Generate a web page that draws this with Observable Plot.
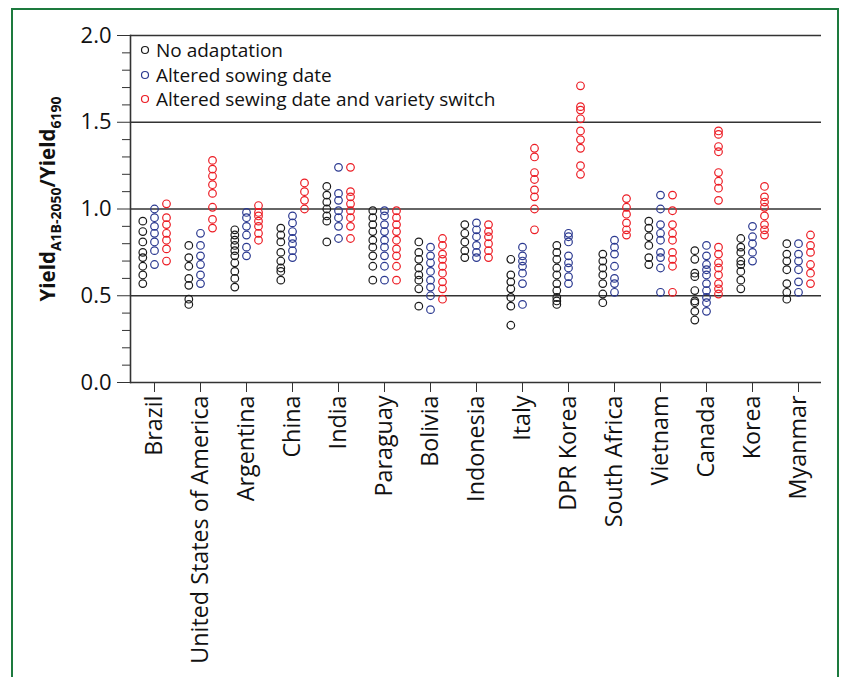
<!DOCTYPE html>
<html>
<head>
<meta charset="utf-8">
<script src="https://cdn.jsdelivr.net/npm/d3@7"></script>
<script src="https://cdn.jsdelivr.net/npm/@observablehq/plot@0.6"></script>
<style>
  html, body { margin: 0; padding: 0; background: #fff; }
  #wrap { position: relative; width: 842px; height: 677px; overflow: hidden; font-family: "Open Sans", "Noto Sans", sans-serif; }
  #border { position: absolute; left: 11px; top: 8px; width: 828px; height: 720px; box-sizing: border-box; border: 2.5px solid #1d7a3e; pointer-events: none; }
  #legend { position: absolute; left: 140px; top: 38px; font-size: 19px; color: #111; line-height: 24.5px; }
  #legend div { display: flex; align-items: center; white-space: nowrap; }
  #legend svg { margin-right: 6px; }
</style>
</head>
<body>
<div id="wrap">
  <div id="chart"></div>
  <div id="legend"></div>
  <div id="border"></div>
</div>
<script>
const countries = ["Brazil", "United States of America", "Argentina", "China", "India", "Paraguay", "Bolivia", "Indonesia", "Italy", "DPR Korea", "South Africa", "Vietnam", "Canada", "Korea", "Myanmar"];
const seriesNames = ["No adaptation", "Altered sowing date", "Altered sewing date and variety switch"];
const seriesColors = ["#1a1a1a", "#2b3990", "#ec1c24"];

const noAdaptation = [
  [0.93,0.87,0.81,0.75,0.72,0.67,0.62,0.57],
  [0.79,0.72,0.67,0.60,0.56,0.48,0.45],
  [0.88,0.85,0.82,0.79,0.76,0.73,0.69,0.64,0.60,0.55],
  [0.89,0.85,0.81,0.75,0.70,0.66,0.64,0.59],
  [1.13,1.08,1.04,1.00,0.96,0.93,0.81],
  [0.99,0.95,0.91,0.87,0.82,0.78,0.73,0.67,0.59],
  [0.81,0.75,0.71,0.66,0.62,0.59,0.54,0.44],
  [0.91,0.86,0.81,0.76,0.72],
  [0.71,0.62,0.58,0.54,0.49,0.44,0.33],
  [0.79,0.75,0.71,0.66,0.62,0.57,0.53,0.49,0.47,0.45],
  [0.74,0.70,0.66,0.62,0.57,0.51,0.46],
  [0.93,0.89,0.84,0.79,0.72,0.68],
  [0.76,0.71,0.63,0.61,0.53,0.47,0.46,0.41,0.36],
  [0.83,0.78,0.75,0.70,0.68,0.64,0.59,0.54],
  [0.80,0.74,0.70,0.65,0.57,0.52,0.48]
];
const alteredSowing = [
  [1.00,0.95,0.90,0.86,0.81,0.76,0.68],
  [0.86,0.79,0.73,0.68,0.62,0.57],
  [0.98,0.95,0.90,0.85,0.78,0.73],
  [0.96,0.92,0.87,0.83,0.80,0.76,0.72],
  [1.24,1.09,1.05,0.99,0.95,0.90,0.83],
  [0.99,0.96,0.91,0.87,0.82,0.78,0.73,0.67,0.59],
  [0.78,0.73,0.69,0.64,0.59,0.55,0.50,0.42],
  [0.92,0.88,0.84,0.79,0.75,0.72],
  [0.78,0.73,0.70,0.67,0.63,0.57,0.45],
  [0.86,0.84,0.81,0.73,0.69,0.66,0.61,0.57],
  [0.82,0.78,0.74,0.67,0.60,0.57,0.52],
  [1.08,1.00,0.91,0.86,0.82,0.75,0.72,0.66,0.52],
  [0.79,0.73,0.68,0.65,0.62,0.57,0.53,0.49,0.46,0.41],
  [0.90,0.84,0.80,0.75,0.70],
  [0.80,0.74,0.70,0.65,0.58,0.52]
];
const alteredVariety = [
  [1.03,0.95,0.91,0.86,0.82,0.77,0.70],
  [1.28,1.23,1.19,1.14,1.09,1.01,0.94,0.89],
  [1.02,0.98,0.96,0.93,0.90,0.86,0.82],
  [1.15,1.10,1.05,1.00],
  [1.24,1.10,1.07,1.03,0.99,0.95,0.90,0.83],
  [0.99,0.95,0.91,0.87,0.82,0.77,0.73,0.67,0.59],
  [0.83,0.79,0.74,0.71,0.67,0.63,0.58,0.54,0.48],
  [0.91,0.87,0.84,0.80,0.76,0.72],
  [1.35,1.30,1.21,1.17,1.11,1.07,1.00,0.88],
  [1.71,1.59,1.57,1.52,1.45,1.40,1.35,1.25,1.20],
  [1.06,1.01,0.97,0.92,0.88,0.85],
  [1.08,0.99,0.91,0.86,0.82,0.75,0.71,0.67,0.52],
  [1.45,1.43,1.36,1.33,1.21,1.16,1.12,1.05,0.78,0.74,0.69,0.66,0.62,0.57,0.54,0.51],
  [1.13,1.07,1.04,1.01,0.96,0.91,0.88,0.85],
  [0.85,0.79,0.75,0.68,0.63,0.57]
];
const majorTicks = [0, 0.5, 1.0, 1.5, 2.0];
const minorTicks = [0.1, 0.2, 0.3, 0.4, 0.6, 0.7, 0.8, 0.9, 1.1, 1.2, 1.3, 1.4, 1.6, 1.7, 1.8, 1.9];
const gridValues = [0.5, 1.0, 1.5, 2.0];

const allSeries = [noAdaptation, alteredSowing, alteredVariety];
const rows = [];
allSeries.forEach((s, si) => s.forEach((vals, ci) => vals.forEach(v => rows.push({country: countries[ci], series: si, value: v}))));

const offsets = [-11.7, 0, 12];

const plot = Plot.plot({
  width: 842,
  height: 677,
  marginLeft: 130,
  marginRight: 21,
  marginTop: 35,
  marginBottom: 295,
  style: {fontFamily: "'Open Sans', 'Noto Sans', sans-serif", fontSize: "22px", color: "#111", background: "transparent"},
  x: {type: "point", domain: countries, padding: 0.5, align: 0.5, axis: null},
  y: {domain: [0, 2], axis: null},
  marks: [
    Plot.ruleY(gridValues, {stroke: "#333", strokeWidth: 1.6}),
    Plot.ruleY([0], {stroke: "#333", strokeWidth: 1.6}),
    Plot.frame({anchor: "left", stroke: "#333", strokeWidth: 1.6}),
    Plot.axisY(majorTicks, {tickSize: 13, tickPadding: 6, tickFormat: d3.format(".1f"), fontSize: 22, stroke: "#333", label: null}),
    Plot.axisY(minorTicks, {tickSize: 8, text: null, stroke: "#333", label: null}),
    Plot.axisX(countries, {tickSize: 10, tickPadding: 3, tickRotate: -90, fontSize: 23.3, stroke: "#333", label: null}),
    ...[0, 1, 2].map(si => Plot.dot(rows.filter(d => d.series === si), {
      x: "country", y: "value", dx: offsets[si], r: 3.8, stroke: seriesColors[si], strokeWidth: 1.2, fill: "none"
    }))
  ]
});
document.getElementById("chart").appendChild(plot);

// Y axis title with subscripts
const svg = d3.select(plot);
const title = svg.append("text")
  .attr("transform", "translate(55,199) rotate(-90)")
  .attr("text-anchor", "middle")
  .attr("font-family", "'Open Sans', 'Noto Sans', sans-serif")
  .attr("font-weight", "bold")
  .attr("fill", "#111")
  .attr("font-size", 20.5);
title.append("tspan").text("Yield");
title.append("tspan").attr("font-size", 14).attr("dy", 6).text("A1B-2050");
title.append("tspan").attr("dy", -6).text("/Yield");
title.append("tspan").attr("font-size", 14).attr("dy", 6).text("6190");

// Legend
const legend = d3.select("#legend");
seriesNames.forEach((name, i) => {
  const row = legend.append("div");
  const s = row.append("svg").attr("width", 10).attr("height", 10);
  s.append("circle").attr("cx", 5).attr("cy", 5).attr("r", 3.5).attr("fill", "none").attr("stroke", seriesColors[i]).attr("stroke-width", 1.2);
  row.append("span").text(name);
});
</script>
</body>
</html>
